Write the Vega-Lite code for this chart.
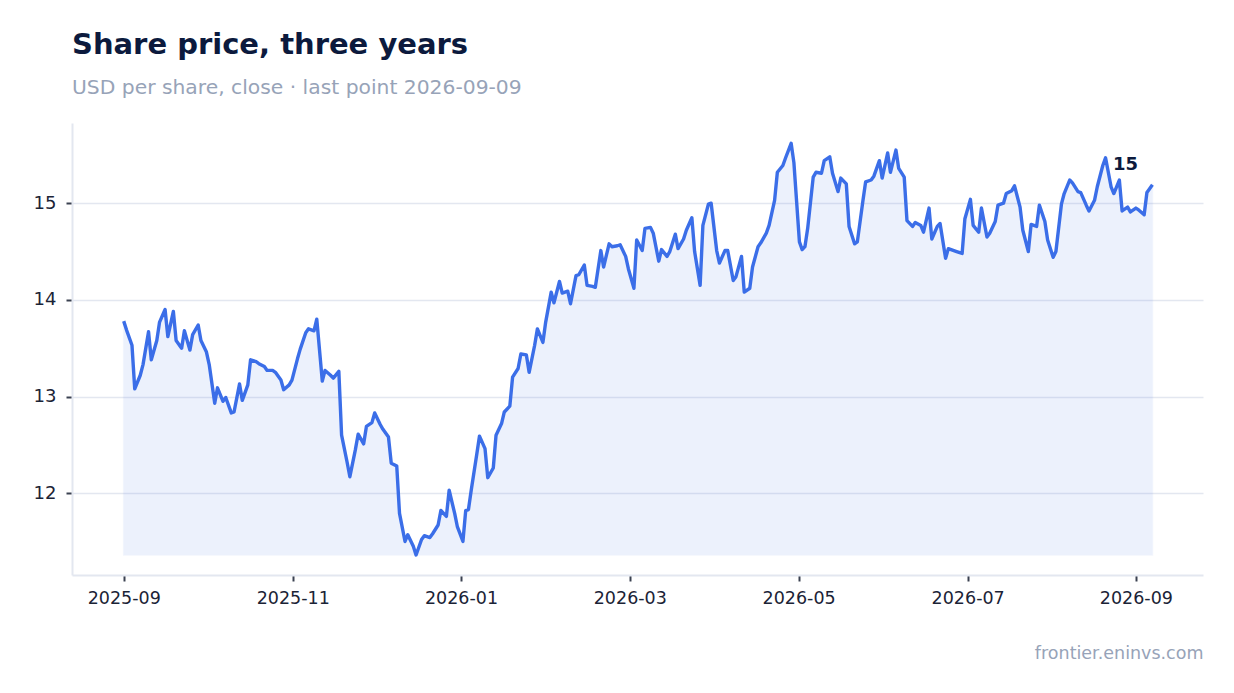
{
  "$schema": "https://vega.github.io/schema/vega-lite/v6.json",
  "description": "Share price, three years: daily close, USD per share",
  "autosize": {"type": "none"},
  "width": 1131,
  "height": 452,
  "padding": {"left": 72, "top": 123, "right": 31, "bottom": 118},
  "background": "#ffffff",
  "title": {
    "text": "Share price, three years",
    "subtitle": "USD per share, close · last point 2026-09-09",
    "anchor": "start",
    "frame": "group",
    "font": "DejaVu Sans",
    "fontSize": 29,
    "fontWeight": "bold",
    "color": "#0c1a3d",
    "subtitleFont": "DejaVu Sans",
    "subtitleFontSize": 20.3,
    "subtitleColor": "#97a3b8",
    "subtitlePadding": 18,
    "offset": 25
  },
  "data": {
    "values": [
      {"date": "2025-09-01", "close": 13.78},
      {"date": "2025-09-02", "close": 13.69},
      {"date": "2025-09-04", "close": 13.53},
      {"date": "2025-09-05", "close": 13.08},
      {"date": "2025-09-07", "close": 13.22},
      {"date": "2025-09-08", "close": 13.33},
      {"date": "2025-09-10", "close": 13.67},
      {"date": "2025-09-11", "close": 13.38},
      {"date": "2025-09-13", "close": 13.58},
      {"date": "2025-09-14", "close": 13.77},
      {"date": "2025-09-16", "close": 13.90},
      {"date": "2025-09-17", "close": 13.62},
      {"date": "2025-09-19", "close": 13.88},
      {"date": "2025-09-20", "close": 13.58},
      {"date": "2025-09-22", "close": 13.50},
      {"date": "2025-09-23", "close": 13.68},
      {"date": "2025-09-25", "close": 13.48},
      {"date": "2025-09-26", "close": 13.64},
      {"date": "2025-09-28", "close": 13.74},
      {"date": "2025-09-29", "close": 13.58},
      {"date": "2025-10-01", "close": 13.46},
      {"date": "2025-10-02", "close": 13.33},
      {"date": "2025-10-04", "close": 12.93},
      {"date": "2025-10-05", "close": 13.09},
      {"date": "2025-10-07", "close": 12.95},
      {"date": "2025-10-08", "close": 12.99},
      {"date": "2025-10-10", "close": 12.83},
      {"date": "2025-10-11", "close": 12.84},
      {"date": "2025-10-13", "close": 13.13},
      {"date": "2025-10-14", "close": 12.96},
      {"date": "2025-10-16", "close": 13.12},
      {"date": "2025-10-17", "close": 13.38},
      {"date": "2025-10-19", "close": 13.36},
      {"date": "2025-10-20", "close": 13.34},
      {"date": "2025-10-22", "close": 13.31},
      {"date": "2025-10-23", "close": 13.27},
      {"date": "2025-10-25", "close": 13.27},
      {"date": "2025-10-26", "close": 13.25},
      {"date": "2025-10-28", "close": 13.17},
      {"date": "2025-10-29", "close": 13.07},
      {"date": "2025-10-31", "close": 13.12},
      {"date": "2025-11-01", "close": 13.17},
      {"date": "2025-11-03", "close": 13.39},
      {"date": "2025-11-04", "close": 13.49},
      {"date": "2025-11-06", "close": 13.66},
      {"date": "2025-11-07", "close": 13.70},
      {"date": "2025-11-09", "close": 13.68},
      {"date": "2025-11-10", "close": 13.80},
      {"date": "2025-11-12", "close": 13.16},
      {"date": "2025-11-13", "close": 13.27},
      {"date": "2025-11-15", "close": 13.22},
      {"date": "2025-11-16", "close": 13.19},
      {"date": "2025-11-18", "close": 13.26},
      {"date": "2025-11-19", "close": 12.60},
      {"date": "2025-11-21", "close": 12.32},
      {"date": "2025-11-22", "close": 12.17},
      {"date": "2025-11-24", "close": 12.45},
      {"date": "2025-11-25", "close": 12.61},
      {"date": "2025-11-27", "close": 12.51},
      {"date": "2025-11-28", "close": 12.69},
      {"date": "2025-11-30", "close": 12.73},
      {"date": "2025-12-01", "close": 12.83},
      {"date": "2025-12-03", "close": 12.71},
      {"date": "2025-12-04", "close": 12.66},
      {"date": "2025-12-06", "close": 12.58},
      {"date": "2025-12-07", "close": 12.31},
      {"date": "2025-12-09", "close": 12.28},
      {"date": "2025-12-10", "close": 11.79},
      {"date": "2025-12-12", "close": 11.50},
      {"date": "2025-12-13", "close": 11.57},
      {"date": "2025-12-15", "close": 11.45},
      {"date": "2025-12-16", "close": 11.36},
      {"date": "2025-12-18", "close": 11.52},
      {"date": "2025-12-19", "close": 11.56},
      {"date": "2025-12-21", "close": 11.54},
      {"date": "2025-12-22", "close": 11.58},
      {"date": "2025-12-24", "close": 11.67},
      {"date": "2025-12-25", "close": 11.82},
      {"date": "2025-12-27", "close": 11.76},
      {"date": "2025-12-28", "close": 12.03},
      {"date": "2025-12-30", "close": 11.79},
      {"date": "2025-12-31", "close": 11.65},
      {"date": "2026-01-02", "close": 11.50},
      {"date": "2026-01-03", "close": 11.82},
      {"date": "2026-01-04", "close": 11.83},
      {"date": "2026-01-05", "close": 12.03},
      {"date": "2026-01-07", "close": 12.40},
      {"date": "2026-01-08", "close": 12.59},
      {"date": "2026-01-10", "close": 12.46},
      {"date": "2026-01-11", "close": 12.16},
      {"date": "2026-01-13", "close": 12.26},
      {"date": "2026-01-14", "close": 12.60},
      {"date": "2026-01-16", "close": 12.72},
      {"date": "2026-01-17", "close": 12.84},
      {"date": "2026-01-19", "close": 12.90},
      {"date": "2026-01-20", "close": 13.20},
      {"date": "2026-01-22", "close": 13.29},
      {"date": "2026-01-23", "close": 13.44},
      {"date": "2026-01-25", "close": 13.43},
      {"date": "2026-01-26", "close": 13.25},
      {"date": "2026-01-28", "close": 13.53},
      {"date": "2026-01-29", "close": 13.70},
      {"date": "2026-01-31", "close": 13.56},
      {"date": "2026-02-01", "close": 13.77},
      {"date": "2026-02-03", "close": 14.08},
      {"date": "2026-02-04", "close": 13.97},
      {"date": "2026-02-06", "close": 14.19},
      {"date": "2026-02-07", "close": 14.07},
      {"date": "2026-02-09", "close": 14.09},
      {"date": "2026-02-10", "close": 13.96},
      {"date": "2026-02-12", "close": 14.25},
      {"date": "2026-02-13", "close": 14.26},
      {"date": "2026-02-15", "close": 14.36},
      {"date": "2026-02-16", "close": 14.15},
      {"date": "2026-02-18", "close": 14.14},
      {"date": "2026-02-19", "close": 14.13},
      {"date": "2026-02-21", "close": 14.51},
      {"date": "2026-02-22", "close": 14.34},
      {"date": "2026-02-24", "close": 14.58},
      {"date": "2026-02-25", "close": 14.55},
      {"date": "2026-02-27", "close": 14.56},
      {"date": "2026-02-28", "close": 14.57},
      {"date": "2026-03-02", "close": 14.45},
      {"date": "2026-03-03", "close": 14.32},
      {"date": "2026-03-05", "close": 14.12},
      {"date": "2026-03-06", "close": 14.62},
      {"date": "2026-03-08", "close": 14.51},
      {"date": "2026-03-09", "close": 14.74},
      {"date": "2026-03-11", "close": 14.75},
      {"date": "2026-03-12", "close": 14.69},
      {"date": "2026-03-14", "close": 14.40},
      {"date": "2026-03-15", "close": 14.52},
      {"date": "2026-03-17", "close": 14.45},
      {"date": "2026-03-18", "close": 14.50},
      {"date": "2026-03-20", "close": 14.68},
      {"date": "2026-03-21", "close": 14.53},
      {"date": "2026-03-23", "close": 14.63},
      {"date": "2026-03-24", "close": 14.72},
      {"date": "2026-03-26", "close": 14.85},
      {"date": "2026-03-27", "close": 14.50},
      {"date": "2026-03-29", "close": 14.15},
      {"date": "2026-03-30", "close": 14.77},
      {"date": "2026-04-01", "close": 14.99},
      {"date": "2026-04-02", "close": 15.00},
      {"date": "2026-04-04", "close": 14.51},
      {"date": "2026-04-05", "close": 14.38},
      {"date": "2026-04-07", "close": 14.51},
      {"date": "2026-04-08", "close": 14.51},
      {"date": "2026-04-10", "close": 14.20},
      {"date": "2026-04-11", "close": 14.24},
      {"date": "2026-04-13", "close": 14.45},
      {"date": "2026-04-14", "close": 14.08},
      {"date": "2026-04-16", "close": 14.12},
      {"date": "2026-04-17", "close": 14.34},
      {"date": "2026-04-19", "close": 14.55},
      {"date": "2026-04-20", "close": 14.59},
      {"date": "2026-04-22", "close": 14.69},
      {"date": "2026-04-23", "close": 14.77},
      {"date": "2026-04-25", "close": 15.03},
      {"date": "2026-04-26", "close": 15.32},
      {"date": "2026-04-28", "close": 15.39},
      {"date": "2026-04-29", "close": 15.47},
      {"date": "2026-05-01", "close": 15.62},
      {"date": "2026-05-02", "close": 15.42},
      {"date": "2026-05-04", "close": 14.60},
      {"date": "2026-05-05", "close": 14.52},
      {"date": "2026-05-06", "close": 14.55},
      {"date": "2026-05-07", "close": 14.74},
      {"date": "2026-05-09", "close": 15.27},
      {"date": "2026-05-10", "close": 15.32},
      {"date": "2026-05-12", "close": 15.31},
      {"date": "2026-05-13", "close": 15.44},
      {"date": "2026-05-15", "close": 15.48},
      {"date": "2026-05-16", "close": 15.31},
      {"date": "2026-05-18", "close": 15.12},
      {"date": "2026-05-19", "close": 15.26},
      {"date": "2026-05-21", "close": 15.20},
      {"date": "2026-05-22", "close": 14.76},
      {"date": "2026-05-24", "close": 14.58},
      {"date": "2026-05-25", "close": 14.60},
      {"date": "2026-05-27", "close": 15.02},
      {"date": "2026-05-28", "close": 15.22},
      {"date": "2026-05-30", "close": 15.24},
      {"date": "2026-05-31", "close": 15.28},
      {"date": "2026-06-02", "close": 15.44},
      {"date": "2026-06-03", "close": 15.26},
      {"date": "2026-06-05", "close": 15.52},
      {"date": "2026-06-06", "close": 15.32},
      {"date": "2026-06-08", "close": 15.55},
      {"date": "2026-06-09", "close": 15.36},
      {"date": "2026-06-11", "close": 15.27},
      {"date": "2026-06-12", "close": 14.82},
      {"date": "2026-06-14", "close": 14.76},
      {"date": "2026-06-15", "close": 14.80},
      {"date": "2026-06-17", "close": 14.77},
      {"date": "2026-06-18", "close": 14.70},
      {"date": "2026-06-20", "close": 14.95},
      {"date": "2026-06-21", "close": 14.63},
      {"date": "2026-06-23", "close": 14.76},
      {"date": "2026-06-24", "close": 14.79},
      {"date": "2026-06-26", "close": 14.43},
      {"date": "2026-06-27", "close": 14.53},
      {"date": "2026-06-29", "close": 14.51},
      {"date": "2026-06-30", "close": 14.50},
      {"date": "2026-07-02", "close": 14.48},
      {"date": "2026-07-03", "close": 14.84},
      {"date": "2026-07-05", "close": 15.04},
      {"date": "2026-07-06", "close": 14.77},
      {"date": "2026-07-08", "close": 14.70},
      {"date": "2026-07-09", "close": 14.95},
      {"date": "2026-07-11", "close": 14.65},
      {"date": "2026-07-12", "close": 14.69},
      {"date": "2026-07-14", "close": 14.81},
      {"date": "2026-07-15", "close": 14.98},
      {"date": "2026-07-17", "close": 15.00},
      {"date": "2026-07-18", "close": 15.10},
      {"date": "2026-07-20", "close": 15.13},
      {"date": "2026-07-21", "close": 15.18},
      {"date": "2026-07-23", "close": 14.96},
      {"date": "2026-07-24", "close": 14.72},
      {"date": "2026-07-26", "close": 14.50},
      {"date": "2026-07-27", "close": 14.78},
      {"date": "2026-07-29", "close": 14.76},
      {"date": "2026-07-30", "close": 14.98},
      {"date": "2026-08-01", "close": 14.81},
      {"date": "2026-08-02", "close": 14.62},
      {"date": "2026-08-04", "close": 14.44},
      {"date": "2026-08-05", "close": 14.50},
      {"date": "2026-08-07", "close": 14.99},
      {"date": "2026-08-08", "close": 15.10},
      {"date": "2026-08-10", "close": 15.24},
      {"date": "2026-08-11", "close": 15.21},
      {"date": "2026-08-13", "close": 15.12},
      {"date": "2026-08-14", "close": 15.11},
      {"date": "2026-08-16", "close": 14.98},
      {"date": "2026-08-17", "close": 14.92},
      {"date": "2026-08-19", "close": 15.03},
      {"date": "2026-08-20", "close": 15.17},
      {"date": "2026-08-22", "close": 15.39},
      {"date": "2026-08-23", "close": 15.47},
      {"date": "2026-08-25", "close": 15.17},
      {"date": "2026-08-26", "close": 15.10},
      {"date": "2026-08-28", "close": 15.24},
      {"date": "2026-08-29", "close": 14.92},
      {"date": "2026-08-31", "close": 14.96},
      {"date": "2026-09-01", "close": 14.91},
      {"date": "2026-09-03", "close": 14.95},
      {"date": "2026-09-04", "close": 14.93},
      {"date": "2026-09-06", "close": 14.88},
      {"date": "2026-09-07", "close": 15.11},
      {"date": "2026-09-09", "close": 15.19}
    ]
  },
  "encoding": {
    "x": {
      "field": "date",
      "type": "temporal",
      "scale": {
        "type": "utc",
        "domain": [
          {"year": 2025, "month": 8, "date": 13, "hours": 6, "utc": true},
          {"year": 2026, "month": 9, "date": 27, "hours": 8, "utc": true}
        ]
      },
      "axis": {
        "title": "frontier.eninvs.com",
        "titleAnchor": "end",
        "titleAlign": "right",
        "titleFont": "DejaVu Sans",
        "titleFontSize": 17.5,
        "titleFontWeight": "normal",
        "titleColor": "#97a3b8",
        "titlePadding": 38,
        "format": "%Y-%m",
        "values": [
          {"year": 2025, "month": 9, "date": 1, "utc": true},
          {"year": 2025, "month": 11, "date": 1, "hours": 7, "utc": true},
          {"year": 2026, "month": 1, "date": 1, "hours": 7, "utc": true},
          {"year": 2026, "month": 3, "date": 3, "hours": 12, "utc": true},
          {"year": 2026, "month": 5, "date": 3, "hours": 17, "utc": true},
          {"year": 2026, "month": 7, "date": 4, "utc": true},
          {"year": 2026, "month": 9, "date": 3, "utc": true}
        ],
        "grid": false,
        "domainColor": "#e3e7f0",
        "domainWidth": 2,
        "tickColor": "#3a4150",
        "tickWidth": 2,
        "tickSize": 6,
        "labelFont": "DejaVu Sans",
        "labelFontSize": 17.5,
        "labelColor": "#1b2336",
        "labelPadding": 8
      }
    },
    "y": {
      "field": "close",
      "type": "quantitative",
      "scale": {"domain": [11.153, 15.83], "nice": false, "zero": false},
      "axis": {
        "title": null,
        "values": [12, 13, 14, 15],
        "grid": true,
        "gridColor": "#e3e7f0",
        "gridWidth": 1.5,
        "domainColor": "#e3e7f0",
        "domainWidth": 2,
        "tickColor": "#3a4150",
        "tickWidth": 2,
        "tickSize": 6,
        "labelFont": "DejaVu Sans",
        "labelFontSize": 18,
        "labelColor": "#1b2336",
        "labelPadding": 10
      }
    }
  },
  "layer": [
    {
      "mark": {
        "type": "area",
        "color": "#3b6ee8",
        "opacity": 0.09,
        "stroke": "#3b6ee8",
        "strokeWidth": 1.5,
        "strokeOpacity": 0.6
      },
      "encoding": {"y2": {"datum": 11.36}}
    },
    {
      "mark": {"type": "line", "color": "#3b6ee8", "strokeWidth": 3.4, "strokeJoin": "round"},
      "encoding": {}
    },
    {
      "transform": [
        {"window": [{"op": "row_number", "as": "rank"}], "sort": [{"field": "date", "order": "descending"}]},
        {"filter": "datum.rank == 1"}
      ],
      "mark": {
        "type": "text",
        "font": "DejaVu Sans",
        "fontSize": 18,
        "fontWeight": "bold",
        "color": "#0c1a3d",
        "dx": -27,
        "dy": -20
      },
      "encoding": {"text": {"field": "close", "type": "quantitative", "format": ".0f"}}
    }
  ],
  "config": {
    "view": {"stroke": null}
  }
}
